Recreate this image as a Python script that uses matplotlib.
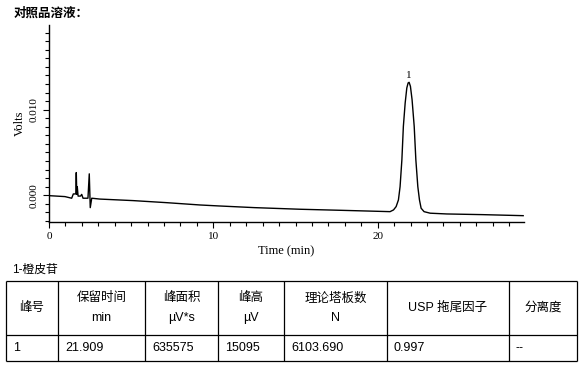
import matplotlib.pyplot as plt
from matplotlib.ticker import MultipleLocator, FixedLocator

# chromatogram trace
time_min = [0.00, 0.97, 1.38, 1.48, 1.63, 1.66, 1.69, 1.72, 1.77, 1.92, 1.99,
            2.07, 2.37, 2.45, 2.51, 2.60, 3.10, 5.13, 7.16, 9.19, 10.30, 12.50,
            15.28, 17.71, 20.00, 20.75, 20.96, 21.12, 21.26, 21.36, 21.47, 21.56,
            21.67, 21.77, 21.85, 21.91, 21.99, 22.09, 22.22, 22.32, 22.44, 22.54,
            22.64, 22.82, 23.19, 24.20, 26.40, 28.85]
volts = [-0.00005, -0.00016, -0.00035, 0.00015, 0.00015, 0.00265, 0.00010,
         0.00100, -0.00010, -0.00010, 0.00010, -0.00035, -0.00035, 0.00250,
         -0.00145, -0.00035, -0.00045, -0.00063, -0.00087, -0.00114, -0.00125,
         -0.00145, -0.00164, -0.00176, -0.00188, -0.00192, -0.00172, -0.00133,
         -0.00055, 0.00100, 0.00414, 0.00804, 0.01078, 0.01254, 0.01313, 0.01320,
         0.01273, 0.01117, 0.00804, 0.00414, 0.00100, -0.00055, -0.00152,
         -0.00192, -0.00210, -0.00219, -0.00227, -0.00239]

peak_name = '1'
x_ticks = [0, 10, 20]
y_ticks = [0.000, 0.010]

title = '对照品溶液：'
compound = '1-橙皮苷'
col_headers = ['峰号', '保留时间\nmin', '峰面积\nµV*s', '峰高\nµV',
               '理论塔板数\nN', 'USP 拖尾因子', '分离度']
row_values = ['1', '21.909', '635575', '15095', '6103.690', '0.997', '--']

W, H = 588, 368
fig = plt.figure(figsize=(W / 100, H / 100), dpi=100)

# chart
ax = fig.add_axes([49 / W, 1 - 222 / H, (524 - 49) / W, (222 - 25) / H])
ax.plot(time_min, volts, color='black', lw=1.0)
ax.set_xlim(0, 28.9)
ax.set_ylim(-0.00313, 0.0199)

ax.spines['top'].set_visible(False)
ax.spines['right'].set_visible(False)
for s in ['left', 'bottom']:
    ax.spines[s].set_linewidth(1.0)

ax.xaxis.set_major_locator(FixedLocator(x_ticks))
ax.xaxis.set_minor_locator(MultipleLocator(1))
ax.yaxis.set_major_locator(FixedLocator(y_ticks))
ax.yaxis.set_minor_locator(MultipleLocator(0.001))
ax.set_xticklabels([str(t) for t in x_ticks])
ax.set_yticklabels(['%.3f' % t for t in y_ticks])
ax.tick_params(which='major', direction='out', length=4.5, width=0.8, pad=3)
ax.tick_params(which='minor', direction='out', length=2.6, width=0.8)
for lab in ax.get_xticklabels() + ax.get_yticklabels():
    lab.set_fontfamily('Liberation Serif')
    lab.set_fontsize(8)
for lab in ax.get_yticklabels():
    lab.set_rotation(90)
    lab.set_va('center')

ax.set_xlabel('Time (min)', fontfamily='Liberation Serif', fontsize=9, labelpad=3)
ax.set_ylabel('Volts', fontfamily='Liberation Serif', fontsize=9, labelpad=3)

ipk = volts.index(max(volts))
ax.annotate(peak_name, (time_min[ipk], volts[ipk]), xytext=(0, 2),
            textcoords='offset points', ha='center', va='bottom',
            fontfamily='Liberation Serif', fontsize=8)

# overlay in pixel coordinates for title and table
ov = fig.add_axes([0, 0, 1, 1])
ov.set_xlim(0, W)
ov.set_ylim(H, 0)
ov.axis('off')
ov.patch.set_visible(False)

fam = ['Liberation Sans', 'Noto Sans CJK SC']
ov.text(14, 13, title, fontfamily=['Noto Sans CJK SC'], fontweight='bold',
        fontsize=9, ha='left', va='center')
ov.text(12, 270, compound, fontfamily=fam, fontsize=8.5, ha='left', va='center')

col_edges = [6, 58, 145, 218, 284, 387, 509, 577]
row_edges = [281, 335, 361]
ov.hlines(row_edges, col_edges[0], col_edges[-1], color='black', lw=0.9)
ov.vlines(col_edges, row_edges[0], row_edges[-1], color='black', lw=0.9)

for i, head in enumerate(col_headers):
    xc = (col_edges[i] + col_edges[i + 1]) / 2
    ov.text(xc, (row_edges[0] + row_edges[1]) / 2, head, fontfamily=fam,
            fontsize=9, ha='center', va='center', linespacing=1.8)
    ov.text(col_edges[i] + 7, (row_edges[1] + row_edges[2]) / 2, row_values[i],
            fontfamily=fam, fontsize=9, ha='left', va='center')

fig.savefig('out.png', dpi=100)
